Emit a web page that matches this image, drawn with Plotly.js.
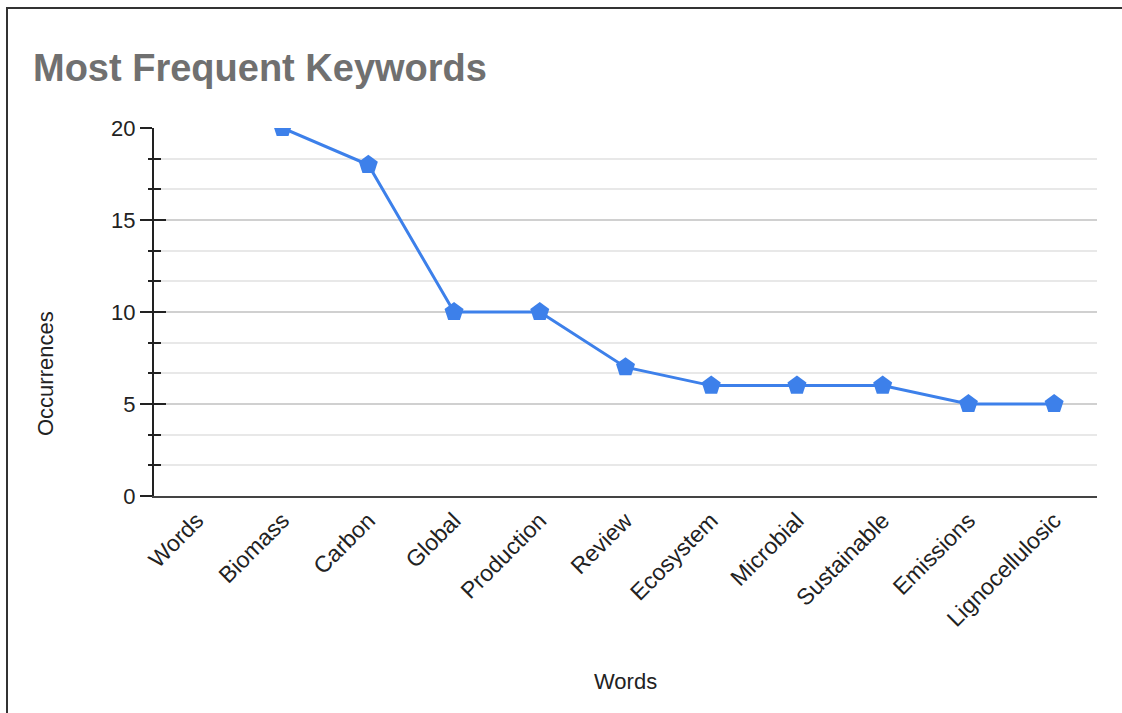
<!DOCTYPE html>
<html>
<head>
<meta charset="utf-8">
<script src="https://cdn.plot.ly/plotly-3.0.1.min.js"></script>
<style>
  html, body { margin: 0; padding: 0; background: #fff; }
  #frame { position: absolute; left: 6px; top: 7px; width: 1116px; height: 706px;
           border-top: 2px solid #333; border-left: 2px solid #333; box-sizing: border-box; pointer-events: none; z-index: 5; }
  #chart { position: absolute; left: 0; top: 0; width: 1122px; height: 713px; }
</style>
</head>
<body>
<div id="chart"></div>
<div id="frame"></div>
<script>
const categories = ["Words", "Biomass", "Carbon", "Global", "Production", "Review",
                    "Ecosystem", "Microbial", "Sustainable", "Emissions", "Lignocellulosic"];
const occurrences = [null, 20, 18, 10, 10, 7, 6, 6, 6, 5, 5];
const yTickValues = [0, 5, 10, 15, 20];
const xTitle = "Words";
const yTitle = "Occurrences";
const chartTitle = "Most Frequent Keywords";

const trace = {
  x: categories,
  y: occurrences,
  type: "scatter",
  mode: "lines+markers",
  line: { color: "#3d80ea", width: 3 },
  marker: { symbol: "pentagon", size: 20, color: "#3d80ea" },
  connectgaps: false,
  cliponaxis: true,
  hoverinfo: "x+y"
};

const FONT = "Liberation Sans, Arial, sans-serif";

const layout = {
  width: 1122, height: 713,
  margin: { l: 154, r: 25, t: 128, b: 217 },
  paper_bgcolor: "#fff", plot_bgcolor: "#fff",
  showlegend: false,
  font: { family: FONT, color: "#222" },
  title: {
    text: "<b>" + chartTitle + "</b>",
    font: { family: FONT, size: 38, color: "#707070" },
    x: 33 / 1122, xref: "container", xanchor: "left",
    y: 1 - 68 / 713, yref: "container", yanchor: "middle"
  },
  xaxis: {
    type: "category",
    range: [-0.5, categories.length - 0.5],
    tickangle: -45,
    tickfont: { size: 23, color: "#222" },
    showgrid: false,
    zeroline: false,
    showline: true, linecolor: "#444", linewidth: 2,
    ticks: "",
    automargin: false
  },
  yaxis: {
    range: [0, 20],
    tickvals: yTickValues,
    ticktext: yTickValues.map(String),
    tickfont: { size: 22, color: "#222" },
    ticks: "outside", ticklen: 12, tickwidth: 2, tickcolor: "#222",
    showgrid: true, gridcolor: "#d0d0d0", gridwidth: 2,
    zeroline: false,
    showline: true, linecolor: "#222", linewidth: 2,
    minor: { dtick: 5 / 3, tick0: 0, ticks: "outside", ticklen: 4, tickwidth: 2, tickcolor: "#222",
             showgrid: true, gridcolor: "#e8e8e8", gridwidth: 2 },
    automargin: false
  },
  yaxis2: {
    overlaying: "y",
    range: [0, 20],
    tickvals: yTickValues,
    showticklabels: false,
    ticks: "inside", ticklen: 12, tickwidth: 2, tickcolor: "#222",
    showgrid: false, zeroline: false, showline: false,
    minor: { dtick: 5 / 3, tick0: 0, ticks: "inside", ticklen: 7, tickwidth: 2, tickcolor: "#222", showgrid: false }
  },
  annotations: [
    { text: xTitle, xref: "paper", yref: "paper", x: 0.5, y: (496 - 681) / 368,
      xanchor: "center", yanchor: "middle", showarrow: false, font: { size: 22, color: "#222" } },
    { text: yTitle, xref: "paper", yref: "paper", x: (45 - 154) / 943, y: (496 - 374) / 368,
      xanchor: "center", yanchor: "middle", textangle: -90, showarrow: false, font: { size: 22, color: "#222" } }
  ]
};

const dummy = { x: categories, y: occurrences.map(() => null), yaxis: "y2", type: "scatter", mode: "lines", hoverinfo: "skip", showlegend: false };

Plotly.newPlot("chart", [dummy, trace], layout, { displayModeBar: false, responsive: false });
</script>
</body>
</html>
